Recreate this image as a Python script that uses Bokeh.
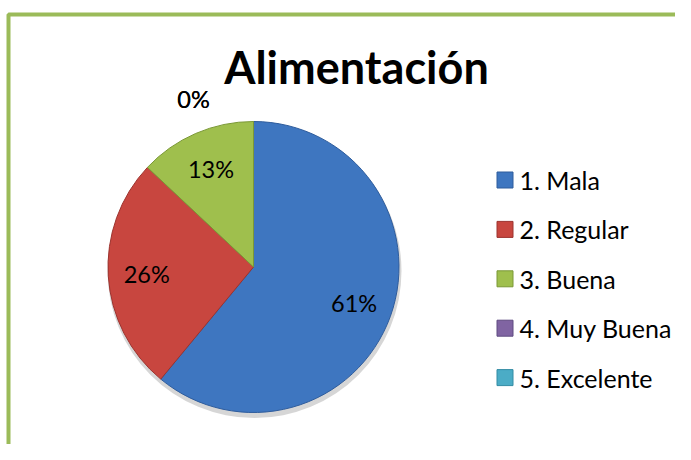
import numpy as np
from bokeh.plotting import figure
from bokeh.models import ColumnDataSource
from bokeh.core.properties import value
from bokeh.embed import file_html
from bokeh.resources import INLINE

title_text = "Alimentación"
categories = ["1. Mala", "2. Regular", "3. Buena", "4. Muy Buena", "5. Excelente"]
percents = [61, 26, 13, 0, 0]
colors = ["#3E76C0", "#C8463F", "#9FBF4D", "#8064A2", "#4BACC6"]
edge_colors = ["#2E5C9C", "#9C332E", "#7A9836", "#5F4A80", "#338CA4"]

W, H = 675, 444
FONT = "Lato"

p = figure(width=W, height=H, x_range=(0, W), y_range=(0, H),
           output_backend="svg", toolbar_location=None, min_border=0)
p.axis.visible = False
p.grid.visible = False
p.outline_line_color = None
p.background_fill_color = "white"
p.border_fill_color = "white"

# chart area border (green, running off the right and bottom edges)
p.line(x=[8, 8, W + 10], y=[-10, H - 14, H - 14], line_color="#9BBB59", line_width=4)

# pie geometry (screen-like coordinates, y up)
cx, cy, R = 253, H - 266.5, 145.5
vals = np.array(percents, dtype=float)
frac = vals / vals.sum()
cum = np.concatenate([[0], np.cumsum(frac)])
start = np.pi / 2 - cum[1:] * 2 * np.pi
end = np.pi / 2 - cum[:-1] * 2 * np.pi
nz = vals > 0

# soft shadow
p.circle(x=[cx + 1], y=[cy - 4], radius=R + 1.5, fill_color="#8a8a8a", fill_alpha=0.35, line_color=None)

src = ColumnDataSource(dict(start=start[nz], end=end[nz],
                            color=[c for c, k in zip(colors, nz) if k],
                            edge=[c for c, k in zip(edge_colors, nz) if k]))
p.wedge(x=cx, y=cy, radius=R, start_angle="start", end_angle="end",
        fill_color="color", line_color="edge", line_width=1, source=src)

# slice labels
mid = (cum[:-1] + cum[1:]) / 2
lab_x, lab_y, lab_t = [], [], []
for m, v in zip(mid, percents):
    if v > 0:
        a = np.pi / 2 - m * 2 * np.pi
        lab_x.append(cx + 0.735 * R * np.cos(a))
        lab_y.append(cy + 0.735 * R * np.sin(a))
    else:
        lab_x.append(cx - 60)
        lab_y.append(cy + 1.155 * R)
    lab_t.append(f"{v}%")
p.text(x=lab_x, y=lab_y, text=lab_t, text_font=value(FONT), text_font_size="23.5px",
       text_align="center", text_baseline="middle", text_color="black")

# title
p.text(x=[356], y=[H - 66], text=[title_text], text_font=value(FONT), text_font_size="45px",
       text_font_style="bold", text_align="center", text_baseline="middle", text_color="black")

# legend
leg_y = [H - (179.5 + i * 49.4) for i in range(len(categories))]
p.scatter(x=[504.5] * len(categories), y=leg_y, marker="square", size=16,
          fill_color=colors, line_color=edge_colors, line_width=1)
p.text(x=[519] * len(categories), y=leg_y, text=categories, text_font=value(FONT),
       text_font_size="25px", text_align="left", text_baseline="middle", text_color="black")

open("out.html", "w").write(file_html(p, INLINE))
